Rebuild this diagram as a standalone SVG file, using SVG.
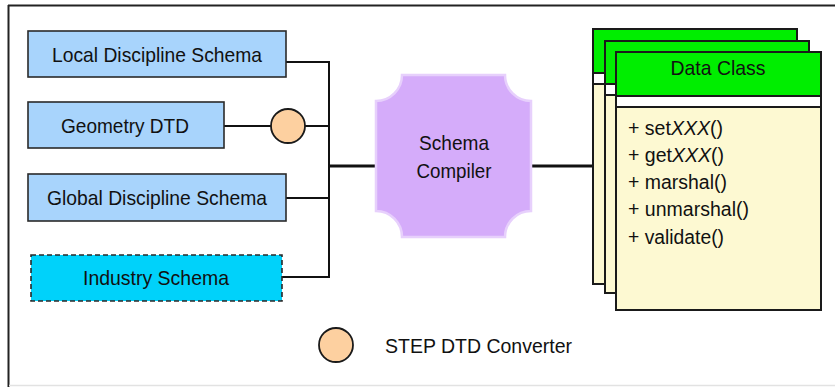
<svg xmlns="http://www.w3.org/2000/svg" width="835" height="387" viewBox="0 0 835 387">
  <style>
    text { font-family: "Liberation Sans", Arial, sans-serif; fill: #111; font-size: 21px; }
    .lbl { text-anchor: middle; }
    .meth { font-size: 19.5px; }
    .schema { fill: #a8d4fc; stroke: #2a2a2a; stroke-width: 1.6; }
    .industry { fill: #00d2fa; stroke: #2a2a2a; stroke-width: 1.6; stroke-dasharray: 5 3; }
    .conv { fill: #fdd0a0; stroke: #1a1a1a; stroke-width: 1.8; }
    .wire { fill: none; stroke: #111; stroke-width: 2; }
    .bus { fill: none; stroke: #111; stroke-width: 3.2; }
    .card { fill: #fdf9d2; stroke: #1a1a1a; stroke-width: 2; }
    .head { fill: #00ee00; stroke: #1a1a1a; stroke-width: 2; }
    .band { fill: #ffffff; stroke: #1a1a1a; stroke-width: 2; }
  </style>

  <!-- frame -->
  <rect x="0" y="0" width="835" height="387" fill="#ffffff"/>
  <line x1="8" y1="5.5" x2="835" y2="5.5" stroke="#222" stroke-width="2"/>
  <line x1="8.5" y1="5" x2="8.5" y2="387" stroke="#222" stroke-width="2"/>
  <line x1="9" y1="385.5" x2="835" y2="385.5" stroke="#e2e2e2" stroke-width="1.5"/>

  <!-- connectors -->
  <g id="connectors">
    <polyline class="wire" points="286,62 329,62 329,277 282,277"/>
    <line class="wire" x1="224" y1="126" x2="271" y2="126"/>
    <line class="wire" x1="305" y1="126" x2="329" y2="126"/>
    <line class="wire" x1="286" y1="198" x2="329" y2="198"/>
    <line class="bus" x1="328" y1="166" x2="377" y2="166"/>
    <line class="bus" x1="530" y1="166" x2="594" y2="166"/>
  </g>

  <!-- source schemas -->
  <g id="local-schema">
    <rect class="schema" x="28" y="31" width="258" height="46"/>
    <text class="lbl" x="157" y="62" textLength="210" lengthAdjust="spacingAndGlyphs">Local Discipline Schema</text>
  </g>
  <g id="geometry-dtd">
    <rect class="schema" x="28" y="102" width="196" height="46"/>
    <text class="lbl" x="125" y="133" textLength="128" lengthAdjust="spacingAndGlyphs">Geometry DTD</text>
  </g>
  <g id="global-schema">
    <rect class="schema" x="28" y="174" width="258" height="47"/>
    <text class="lbl" x="157" y="205" textLength="220" lengthAdjust="spacingAndGlyphs">Global Discipline Schema</text>
  </g>
  <g id="industry-schema">
    <rect class="industry" x="31" y="255" width="251" height="46"/>
    <text class="lbl" x="156" y="285" textLength="146" lengthAdjust="spacingAndGlyphs">Industry Schema</text>
  </g>

  <!-- STEP DTD converter on the geometry line -->
  <g id="converter">
    <circle class="conv" cx="288" cy="126" r="17"/>
  </g>

  <!-- schema compiler -->
  <g id="compiler">
    <path d="M402,75 H505 A26,26 0 0 0 531,101 V211 A26,26 0 0 0 505,237 H402 A26,26 0 0 0 376,211 V101 A26,26 0 0 0 402,75 Z"
          fill="#d5acfa" stroke="#e7d0fc" stroke-width="2.5"/>
    <text class="lbl" x="454" y="150" textLength="70" lengthAdjust="spacingAndGlyphs">Schema</text>
    <text class="lbl" x="454" y="178" textLength="75" lengthAdjust="spacingAndGlyphs">Compiler</text>
  </g>

  <!-- generated data classes -->
  <g id="data-class-3">
    <rect class="card" x="593" y="29" width="204" height="255"/>
    <rect class="band" x="593" y="73" width="204" height="11"/>
    <rect class="head" x="593" y="29" width="204" height="44"/>
  </g>
  <g id="data-class-2">
    <rect class="card" x="605" y="41" width="204" height="252"/>
    <rect class="band" x="605" y="84" width="204" height="11"/>
    <rect class="head" x="605" y="41" width="204" height="43"/>
  </g>
  <g id="data-class-1">
    <rect class="card" x="616" y="52" width="205" height="258"/>
    <rect class="band" x="616" y="96" width="205" height="11"/>
    <rect class="head" x="616" y="52" width="205" height="44"/>
    <text class="lbl" x="718" y="75" textLength="95" lengthAdjust="spacingAndGlyphs">Data Class</text>
    <text class="meth" x="628" y="135" textLength="95" lengthAdjust="spacingAndGlyphs">+ set<tspan font-style="italic">XXX</tspan>()</text>
    <text class="meth" x="628" y="162" textLength="96" lengthAdjust="spacingAndGlyphs">+ get<tspan font-style="italic">XXX</tspan>()</text>
    <text class="meth" x="628" y="189" textLength="99" lengthAdjust="spacingAndGlyphs">+ marshal()</text>
    <text class="meth" x="628" y="216" textLength="121" lengthAdjust="spacingAndGlyphs">+ unmarshal()</text>
    <text class="meth" x="628" y="244" textLength="96" lengthAdjust="spacingAndGlyphs">+ validate()</text>
  </g>

  <!-- legend -->
  <g id="legend">
    <circle class="conv" cx="336" cy="345" r="17"/>
    <text x="385" y="353" textLength="187" lengthAdjust="spacingAndGlyphs">STEP DTD Converter</text>
  </g>
</svg>
